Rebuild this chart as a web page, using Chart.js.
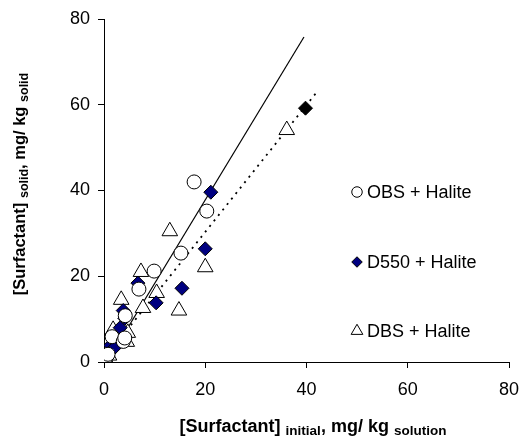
<!DOCTYPE html>
<html>
<head>
<meta charset="utf-8">
<script src="https://cdn.jsdelivr.net/npm/chart.js@4.4.0/dist/chart.umd.min.js"></script>
<style>
  body { margin: 0; background: #fff; }
  #wrap { position: relative; width: 519px; height: 437px; font-family: Arial, 'Liberation Sans', sans-serif; overflow: hidden; }
  #xTitle { position: absolute; left: 106px; width: 414px; top: 416px; text-align: center; font-weight: bold; font-size: 18px; line-height: 20px; white-space: nowrap; }
  #yTitle { position: absolute; left: -130px; top: 173px; width: 300px; text-align: center; font-weight: bold; font-size: 16.5px; line-height: 20px; white-space: nowrap; transform: rotate(-90deg); }
  #xTitle .sub { font-size: 13.5px; position: relative; top: 3px; }
  #yTitle .sub { font-size: 12.5px; position: relative; top: 3px; }
</style>
</head>
<body>
<div id="wrap">
  <canvas id="surfChart" width="519" height="437"></canvas>
  <div id="xTitle">[Surfactant] <span class="sub">initial</span>, mg/ kg <span class="sub">solution</span></div>
  <div id="yTitle">[Surfactant] <span class="sub">solid</span>, mg/ kg <span class="sub">solid</span></div>
</div>
<script>
// OBS + Halite (open circles)
const obsX = [0.3, 0.8, 1.6, 3.8, 4.1, 4.2, 6.9, 9.9, 15.2, 20.3, 17.8];
const obsY = [1.0, 1.8, 5.9, 4.8, 5.6, 10.8, 17.0, 21.2, 25.4, 35.2, 42.0];

// D550 + Halite (filled diamonds)
const d550X = [0.5, 0.9, 1.3, 2.2, 3.2, 3.8, 3.8, 4.1, 6.7, 10.3, 15.4, 20.0, 21.1, 39.8];
const d550Y = [0.8, 2.0, 3.9, 3.5, 8.0, 5.4, 12.0, 10.2, 18.4, 13.8, 17.2, 26.4, 39.6, 59.2];

// DBS + Halite (open triangles)
const dbsX = [0.3, 1.0, 1.8, 3.4, 4.5, 4.7, 7.3, 7.7, 10.4, 13.0, 14.8, 20.0, 36.1];
const dbsY = [0.8, 1.5, 7.5, 14.5, 4.7, 6.8, 21.0, 12.6, 16.1, 30.5, 12.0, 22.1, 54.1];

// trend lines (end points)
const solidFitX = [0.6, 39.5];
const solidFitY = [0.0, 75.8];
const dotFitX = [1.0, 42.2];
const dotFitY = [2.2, 63.2];

const legendNames = ['OBS + Halite', 'D550 + Halite', 'DBS + Halite'];

const pts = (xs, ys) => xs.map((x, i) => ({ x: x, y: ys[i] }));

// the last D550 point is drawn black in the original
const d550Fill = d550X.map((x, i) => i === d550X.length - 1 ? '#000000' : '#000080');

const legendPlugin = {
  id: 'insideLegend',
  afterDraw(chart) {
    const ctx = chart.ctx;
    const rows = [192, 262, 331];
    const fills = ['#ffffff', '#000080', '#ffffff'];
    ctx.save();
    ctx.font = '18px Arial, "Liberation Sans", sans-serif';
    ctx.textBaseline = 'middle';
    [0, 1, 2].forEach(i => {
      const ds = chart.data.datasets[i];
      ctx.fillStyle = fills[i];
      ctx.strokeStyle = '#000';
      ctx.lineWidth = 1;
      Chart.helpers.drawPoint(ctx, { pointStyle: ds.pointStyle, radius: ds.pointRadius * 0.75, borderWidth: 1 }, 357, rows[i]);
      ctx.fillStyle = '#000';
      ctx.fillText(legendNames[i], 367, rows[i] + 1);
    });
    ctx.restore();
  }
};

const ctx = document.getElementById('surfChart').getContext('2d');
const surfChart = new Chart(ctx, {
  type: 'scatter',
  data: {
    datasets: [
      {
        label: legendNames[0],
        data: pts(obsX, obsY),
        pointStyle: 'circle',
        pointRadius: 7,
        backgroundColor: '#ffffff',
        borderColor: '#000000',
        borderWidth: 1,
        order: 1
      }, {
        label: legendNames[1],
        data: pts(d550X, d550Y),
        pointStyle: 'rectRot',
        pointRadius: 7,
        backgroundColor: d550Fill,
        borderColor: '#000000',
        borderWidth: 1,
        order: 1
      }, {
        label: legendNames[2],
        data: pts(dbsX, dbsY),
        pointStyle: 'triangle',
        pointRadius: 9,
        backgroundColor: '#ffffff',
        borderColor: '#000000',
        borderWidth: 1,
        order: 1
      }, {
        label: 'fit 1',
        data: pts(solidFitX, solidFitY),
        showLine: true,
        pointRadius: 0,
        borderColor: '#000000',
        borderWidth: 1.2,
        order: 10
      }, {
        label: 'fit 2',
        data: pts(dotFitX, dotFitY),
        showLine: true,
        pointRadius: 0,
        borderColor: '#000000',
        borderWidth: 1.8,
        borderDash: [2, 5],
        order: 10
      }
    ]
  },
  options: {
    responsive: false,
    animation: false,
    layout: { padding: { top: 19, right: 10, left: 0, bottom: 0 } },
    plugins: {
      legend: { display: false },
      tooltip: { enabled: false }
    },
    scales: {
      x: {
        type: 'linear',
        min: 0,
        max: 80,
        ticks: { stepSize: 20, color: '#000', font: { size: 18, family: 'Arial, "Liberation Sans", sans-serif' }, padding: 11 },
        grid: { drawOnChartArea: false, tickLength: 6, color: '#000' },
        border: { color: '#000', width: 1 },
        afterFit: scale => { scale.height = 75; scale.paddingRight = 0; scale.paddingLeft = 0; }
      },
      y: {
        min: 0,
        max: 80,
        ticks: { stepSize: 20, color: '#000', font: { size: 18, family: 'Arial, "Liberation Sans", sans-serif' }, padding: 8 },
        grid: { drawOnChartArea: false, tickLength: 6, color: '#000' },
        border: { color: '#000', width: 1 },
        afterFit: scale => { scale.width = 104; }
      }
    }
  },
  plugins: [legendPlugin]
});
</script>
</body>
</html>
